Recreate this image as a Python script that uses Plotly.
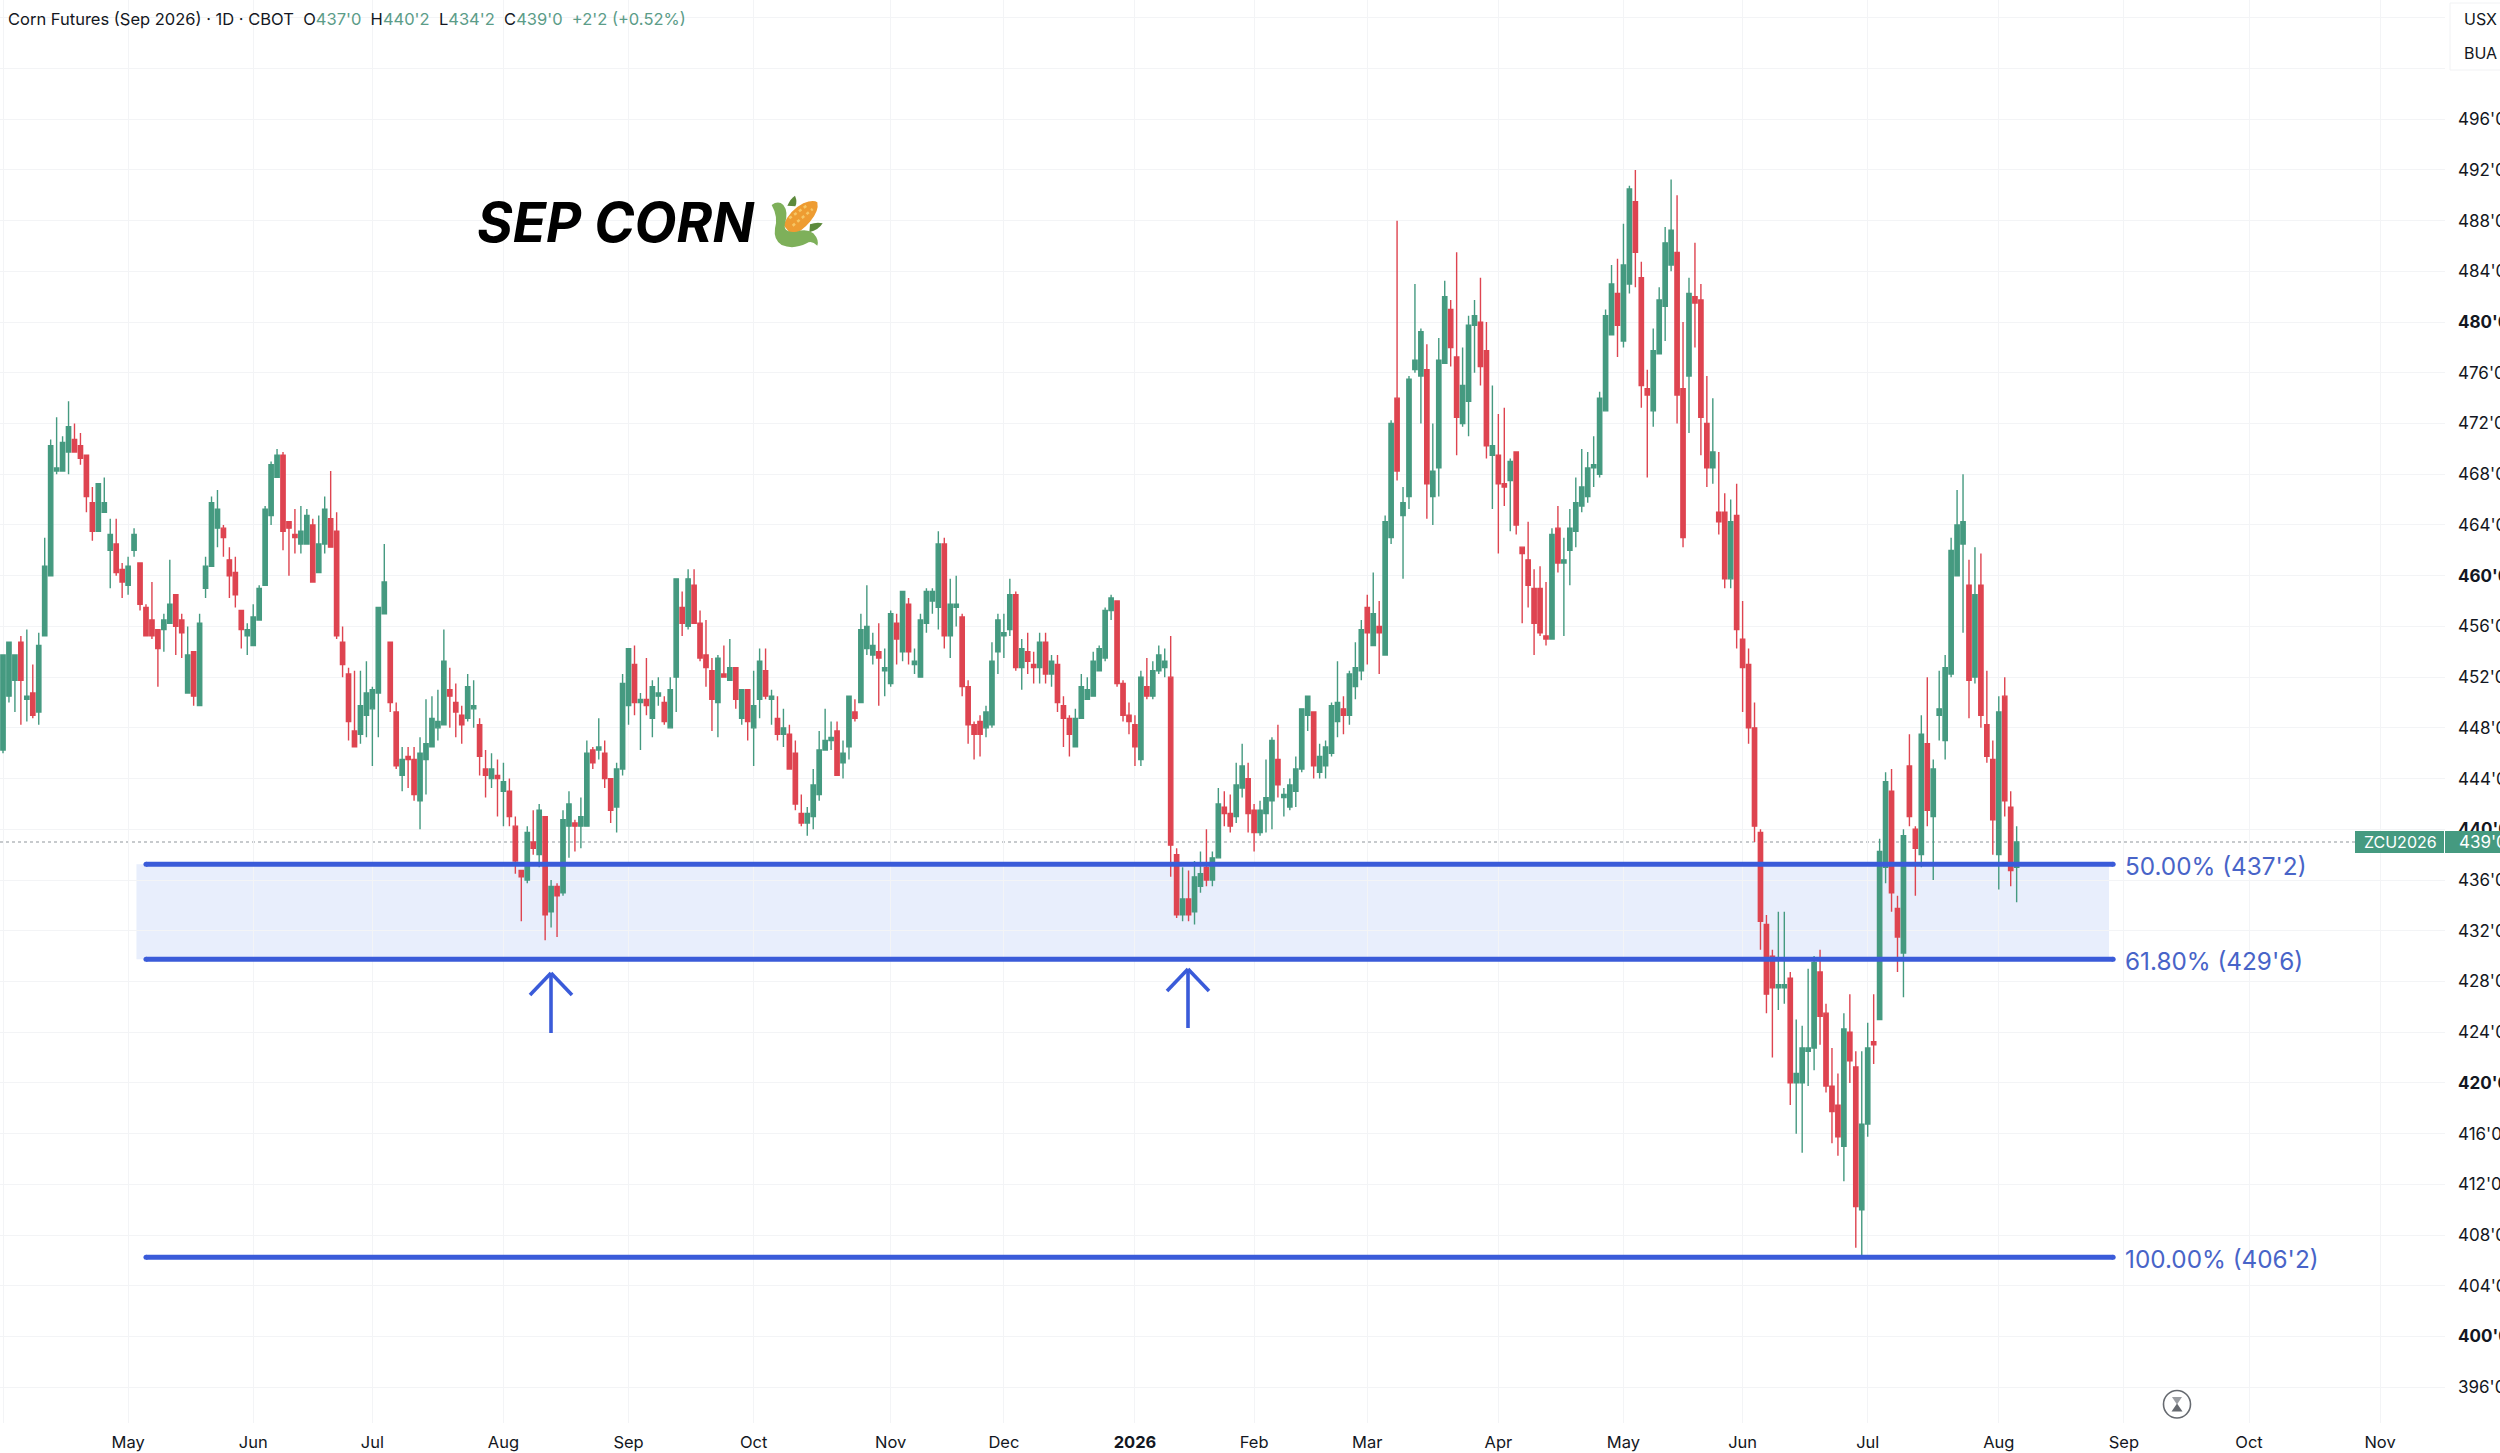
import plotly.graph_objects as go

# -----------------------------
# Daily bars
# -----------------------------
opens = [
    446.25,450.5,451.75,454.75,450.25,450.75,449.25,455.25,460,468.25,
    468.25,469.75,470.75,470.25,469.5,465.75,463.5,465,462,462.5,
    460.5,459.25,462,461,457.5,456.5,455.75,455.75,456.25,458.5,
    456.5,450.75,454,449.75,459,460.75,463.75,463.75,461.25,460.25,
    457.25,455.25,454.5,456.5,459.25,464.75,467.75,469.5,464.25,463.25,
    462.5,462.5,464,460.25,462.5,464.5,463.5,454.75,452.25,447.75,
    447.5,449,449.5,450.75,457,454.75,449.25,444.25,445.75,445.5,
    442.25,445.5,446.5,448,448.25,451,450,449,448.75,449.5,
    448.25,444.75,444,444.25,443,443,440.25,436.75,436,439,
    438,441,433.5,435.5,435,440.25,440.5,440.25,440.25,446.25,
    446.25,446,444,441.75,444.75,449.75,453,450,450.25,448.75,
    450.5,450,448,452,457.5,456,459.25,456.25,453.75,452.5,
    450,452.25,451.75,452.75,448.75,451,448,450.25,452.5,450.25,
    448.75,447.5,447.5,446,441.25,440.5,441,442.75,446.25,447,
    447.75,445.25,446.5,449.25,450,454.25,453.75,454,452.5,451.5,
    456.25,454,457.75,453,452,456.25,458,457.5,462.5,455.25,
    457.5,456.75,451.25,448.25,448.5,448,448.25,454,455.25,455.75,
    458.5,452.75,454,453,452.75,454.75,452.25,453,449.75,448.75,
    446.5,448.75,450.25,450.5,452.5,453.5,457.25,458,451.5,449,
    448.25,445.5,451.25,450.5,452.5,452.75,452,438,433.25,434.5,
    433.5,435.5,437,436,437.75,441.75,441.25,441,443.25,444,
    441.5,439.75,441.25,442.25,445.5,442.5,441.75,443,444.75,449,
    449.25,444.5,445,446,448.5,449.5,449,451.25,452.5,457.5,
    454.5,456,453.75,463,474,464.75,466.25,476.25,475.75,476.25,
    466.25,468.5,476.75,481,477.25,472,473.75,479.75,480,477.75,
    469.5,469.5,467.25,467.5,469.75,462.25,461.25,459,459,455.25,
    455,463.75,461,462,463.5,465.5,466.25,468.5,468,473,
    479,482.25,478.5,483,489.5,483.5,474.75,473,477.5,481.25,
    484.5,485.5,474.75,475.75,482,481.75,472,468.5,465,465,
    459.75,464.75,455,453,448,439.75,432.5,430,427.5,427.5,
    428.25,420,420,422.5,422.75,428.75,425.5,419.75,418.25,415,
    424,421.25,410,416.75,423.25,425,437,443,433.75,430.25,
    445,440,438,446.75,441,449,447,452.25,460,462.5,
    459.25,452,459.25,448.25,445.5,438,450.5,441.75,437,
]
highs = [
    453.75,454.75,453.75,455.25,455.75,453,455.5,463,470.75,472.5,
    471,473.75,472,471.25,469.5,467,467.25,467.75,464.5,464.5,
    461,461.5,463.75,461,457.75,459.5,455.75,457,461.25,458.5,
    457,456,454,457,461.5,466.25,466.75,464,462.25,461.5,
    457.25,456.25,457.75,459.25,465.5,469,470,469.75,464.25,465.25,
    465.5,465.25,464.5,464.75,466.25,468.25,465,456,452.75,452.5,
    452.5,453.25,451.25,457.5,462.5,454.75,450,446.5,446.5,446.5,
    447.25,450.25,450.5,451,455.75,452.75,451.5,449.75,452.25,451.75,
    448.75,446.25,446,445.5,445.25,444,441,436.75,440.25,441.5,
    442,441,436,435.75,441.5,443,440.75,442.5,447,446.5,
    448.75,447,444,445.25,452.25,454.25,454.5,450.75,453.5,451.75,
    452,450.5,452,459.75,458.75,460.5,460.5,457.25,456.5,453.5,
    453.75,454.5,455,452.75,451,451,452.5,454.25,454.25,451,
    450.5,449.5,448.25,447,442.75,441.75,444.75,447.75,449.5,448.5,
    448.5,447,450.5,450.25,457,459.25,455.5,456.25,454.25,457.25,
    457,458.75,458.25,454.25,457,459,459,463.5,463,459.75,
    460,457,451.75,448.5,449,449.75,454.75,457,457,459.75,
    458.75,455,455.5,454,455.5,455.5,453.75,453.75,450.5,449,
    449.5,452.25,452,454,454.5,457.5,458.5,458,451.75,450,
    449,452.5,453.5,453.25,454.5,454.25,455.25,438.5,437,436.75,
    437.5,438.25,440,438.25,443.25,443,442.75,445.25,446.75,445.25,
    442,442.25,445.5,447.25,448.25,443.25,444,445.75,449.5,450.5,
    449.25,446.75,447,450,453.25,450.5,452.5,454.75,456.5,458.5,
    460.25,458,464.75,472.25,488,467,475.75,483,479.5,478.25,
    472,478.75,483.25,481.75,485.5,478,480.5,481.75,483.5,480,
    475,472.75,473.25,469.25,469.75,462.25,464.25,460.5,460.75,459.5,
    463.75,465.5,463,465.25,467.75,470,469.75,471,474.5,481,
    484.5,485,487.75,490.75,492,484.75,476.25,479.5,482.75,487.5,
    491.25,490,480,483.5,486.25,483,475.75,474,469.75,466.5,
    466,467.25,458,454.25,450,440,433.25,430.5,433.5,433.5,
    428.75,425,424.5,429,430,430.5,426.25,422.75,420.75,425.5,
    427,422.5,422.5,424.75,427,439.25,444.5,444.75,434.75,440,
    447.5,440.25,449,452,445.5,452.5,453.75,463,466.75,468,
    461.25,462.25,461.75,452.5,447,450.5,452,443,440.25,
]
lows = [
    446,450,449.25,448.25,448.5,448.75,448.25,455.25,460,468,
    468.25,468,469.75,468.75,465,462.75,463.5,465,459,460,
    458.25,458.5,461.5,457.25,455.25,455,451.25,454,456.25,453.75,
    453.5,450.75,449.75,449.75,458.25,460.75,462.25,461.5,458.25,457.5,
    454.25,453.75,454.5,456.5,459.25,464,467.75,462,460,461.75,
    461.75,462.5,459.5,460.25,461.75,462.25,455,452,447,446.5,
    446.75,447.25,445,447.25,457,449.25,444.75,443,443.25,442.25,
    440,442.75,446.5,447,448.25,448,447.25,446.75,448.5,448,
    444.25,442.5,443.25,441,440.25,440.25,436.5,432.75,435.75,438,
    437,431.25,432.25,431.5,434.75,437.75,438.25,438.5,440.25,444.75,
    445.5,443.25,440.5,439.75,444.25,448.25,449,446.25,449,447.25,
    449.75,448.25,448,449.25,455.25,455.75,456.25,453.25,451.25,447.75,
    447.25,452,451.75,449.5,448.25,447,445,448.75,450.25,448.25,
    447,446.5,444.75,441.5,440.25,439.5,440,442.25,446.25,446.25,
    444.25,444,445.5,448.5,450,453.75,453,449.75,450.5,451.25,
    453,453.25,453,452.25,452,455.5,457,455.75,454.25,453.5,
    456,450.5,446.75,445.5,445.75,447.25,448,452.25,453.5,455.25,
    452.5,451,452.25,451.5,451.5,451.5,451.25,449.25,446.5,445.75,
    446.5,448.75,450.25,450.5,452.5,453.25,456.5,451.25,448.5,447.5,
    445,445,450.25,450.25,452.25,452,436.25,433,432.75,432.75,
    432.5,435,435.5,435.5,437.75,440.25,439.75,440.5,442.5,439.75,
    438.25,439.5,439.75,440,442.5,441,441.5,441.75,444.5,447.75,
    444,444,444,445.75,447.25,447.5,448.25,450.25,451.75,453,
    454.5,452.25,453.75,462.5,467.5,459.75,465.25,476,472,464.5,
    464,466.25,476.75,476.5,469.5,471.75,471,476,475,469.25,
    465.25,461.75,465.5,463.5,463.25,456.25,457.5,453.75,455.25,454.5,
    455,460.25,455.25,459.25,462.25,465,465.75,467,467.75,473,
    479,477.25,478,482.25,482.75,473.25,467.75,471.75,477.5,478.5,
    484,472,462.25,471.25,478,469.5,467,467.25,463.25,459,
    459,454.25,449.25,446.75,439,430.5,425.5,422,425.75,426.25,
    418.25,416,414.5,419.75,421,423,419.25,415.25,414.25,412.25,
    420,407,406.25,415.75,421.5,425,435.75,433.5,428.75,426.75,
    440.25,434.75,437,440.25,436,447,445.5,452,460,455.5,
    448.75,451.5,448,445.25,438,435.25,441,435.5,434.25,
]
closes = [
    453.75,454.75,453.75,451.75,450.5,449,454.5,460.75,470.25,468.5,
    470.5,471.75,469.75,469.25,466.25,463.5,467.25,465.75,463.25,460.25,
    459.5,460.75,463.25,457.75,455.25,455.25,454.25,456.5,457.75,456,
    455.5,453.75,450.5,456.25,460.75,465.75,465.25,463,460,458.5,
    455.75,455.75,456.75,459,465.25,468.75,469.5,463.5,463.75,463,
    463.5,464.75,459.5,462.5,465.25,462.25,455.25,453,448.5,446.5,
    449.75,450.75,451,457.5,459.5,450,445,445.5,445.5,442.75,
    446,446.75,448.75,448.5,453.25,450.5,449.25,448.25,451.25,449.75,
    445.75,444.25,444.75,444,443.75,441,437.5,436.25,439.75,438.5,
    441.5,433.25,435.5,434.75,440.75,442,440.25,441,446,445.25,
    446.5,444,441.5,444.75,451.5,454.25,450,450.25,449.75,451.25,
    450.75,448.5,451,459.75,456.25,459.75,456.25,453.5,452.75,450.25,
    453.5,452,452.75,450.25,451,448.5,449.75,453.25,450.5,450.5,
    447.5,448,444.75,442,440.5,441.25,443.5,446.25,447,447.25,
    444.25,446,450.5,448.75,455.75,456,454.5,453.5,452.75,457,
    455,458.75,454,453.25,456.5,458.75,458.75,462.5,455.25,457.75,
    457.75,451.25,448.25,447.5,447.5,449.25,453.25,456.5,455.5,458.5,
    452.75,454.25,453.25,452.75,454.75,452.25,453.25,450,448.75,447.5,
    448.75,451.25,451,453.25,454.25,457.25,458.25,451.5,449,448.5,
    446.5,452,450.5,452.5,453.75,453.25,438.75,433.25,434.5,433.25,
    436.25,436.5,436,437.75,442,441.25,440.25,443.5,445,441.25,
    439.75,441.5,442.5,447,443.5,442.75,443.5,444.75,449.5,450.5,
    445,445.75,446.5,449.75,450,449,452.25,452.75,455.75,455.5,
    457,455.5,464.25,472,468.25,465.75,475.5,477,479.25,467.25,
    468.25,477,482,478,472.5,475,479.75,480.5,476.5,470.25,
    470.25,467.25,467,469,464,461.75,459.25,456.25,455.5,455,
    463.25,461,461.25,463.75,465.75,467,468.5,468.75,474,480.5,
    483,479.75,484.5,490.5,485.5,475,474.25,477.75,481.75,486.25,
    487.25,474.25,463,482.25,481.5,472.5,468.5,469.75,464.25,459.75,
    464.25,455.75,452.75,448,440.25,432.75,427,427.5,427.75,427.75,
    420,420.75,422.75,422.75,429.5,425.25,419.75,417.75,415.75,424.25,
    421.75,410.25,416.75,422.75,423,438.25,443.75,435,431.5,439.5,
    441,438.5,447.5,441.5,444.75,449.5,452.75,462,464,464.25,
    451.75,458.5,449,445.75,440.75,449.25,442.25,436.75,439,
]
bars = list(range(len(closes)))

# first trading day of each month, as a bar number
month_bars = [0, 21, 42, 62, 84, 105, 126, 149, 168, 190, 210, 229, 251, 272, 292, 313, 335, 356, 377, 399]
month_labels = ["Apr", "May", "Jun", "Jul", "Aug", "Sep", "Oct", "Nov", "Dec", "<b>2026</b>",
                "Feb", "Mar", "Apr", "May", "Jun", "Jul", "Aug", "Sep", "Oct", "Nov"]

price_ticks = list(range(396, 508, 4))
price_labels = ["" if p > 496 else (f"<b>{p}'0</b>" if p % 20 == 0 else f"{p}'0") for p in price_ticks]

fib_levels = [437.25, 429.75, 406.25]
fib_labels = ["50.00% (437'2)", "61.80% (429'6)", "100.00% (406'2)"]

# -----------------------------
# Page geometry and colours
# -----------------------------
W, H = 2500, 1453
PLOT_W, PLOT_H = 2445, 1423
GREEN = "#459a80"
RED = "#de4450"
BLUE = "#3a5bd9"
LABEL_BLUE = "#4864c8"
INK = "#131722"
GRID = "#f3f4f6"
FONT = "Inter"


def fx(px):
    return px / PLOT_W


def fy(py):
    return 1 - py / PLOT_H


def path(*pts, close=True):
    # pts are page pixels or (command, pixels...) for curves
    out = []
    for p in pts:
        cmd, vals = p[0], p[1:]
        coords = []
        for i in range(0, len(vals), 2):
            coords.append(f"{fx(vals[i]):.5f},{fy(vals[i + 1]):.5f}")
        out.append(cmd + " ".join(coords))
    return " ".join(out) + (" Z" if close else "")


def icon(x, y):
    # corn icon crop coordinates to page pixels
    return 760 + x / 3, 185 + y / 3


def corn(cmd, *vals):
    res = [cmd]
    for i in range(0, len(vals), 2):
        res.extend(icon(vals[i], vals[i + 1]))
    return res


def label(text, px, py, size, color=INK, anchor="left"):
    return dict(text=text, x=fx(px), y=fy(py), xref="paper", yref="paper", xanchor=anchor,
                yanchor="middle", showarrow=False, font=dict(family=FONT, size=size, color=color),
                align="left")


# -----------------------------
# Figure
# -----------------------------
fig = go.Figure()

# Fibonacci lines go under the candles
for level in fib_levels:
    fig.add_trace(go.Scatter(
        x=[24, 354.2], y=[level, level], mode="lines+markers",
        line=dict(color=BLUE, width=5), marker=dict(color=BLUE, size=5),
        showlegend=False, hoverinfo="skip"
    ))

fig.add_trace(go.Candlestick(
    x=bars, open=opens, high=highs, low=lows, close=closes,
    increasing=dict(line=dict(color=GREEN, width=1.4), fillcolor=GREEN),
    decreasing=dict(line=dict(color=RED, width=1.4), fillcolor=RED),
    whiskerwidth=0, showlegend=False
))

shapes = []

# zone between the 50 and 61.8 levels
shapes.append(dict(type="rect", xref="x", yref="y", x0=22.4, x1=353.5, y0=fib_levels[1], y1=fib_levels[0],
                   fillcolor="rgba(70,120,230,0.125)", line=dict(width=0), layer="below"))

# last price line
shapes.append(dict(type="line", xref="paper", yref="y", x0=0, x1=fx(2355), y0=closes[-1], y1=closes[-1],
                   line=dict(color="#8f959c", width=1.2, dash="dot"), layer="below"))

# arrows under the two tests of the zone
for ax, tip, tail in [(551, 973, 1033), (1188, 969, 1028)]:
    for seg in ([(ax, tail), (ax, tip)], [(ax - 21, tip + 22), (ax, tip)], [(ax + 21, tip + 22), (ax, tip)]):
        shapes.append(dict(type="line", xref="paper", yref="paper", x0=fx(seg[0][0]), y0=fy(seg[0][1]),
                           x1=fx(seg[1][0]), y1=fy(seg[1][1]), line=dict(color=BLUE, width=3.6)))

# corn icon
shapes.append(dict(type="path", xref="paper", yref="paper", fillcolor="#5d8a3c", line=dict(width=0),
                   path=path(corn("M", 82, 62), corn("Q", 92, 40, 105, 32), corn("Q", 113, 50, 106, 64))))
shapes.append(dict(type="path", xref="paper", yref="paper", fillcolor="#5d8a3c", line=dict(width=0),
                   path=path(corn("M", 150, 118), corn("Q", 170, 110, 188, 115), corn("Q", 176, 135, 148, 142))))
shapes.append(dict(type="path", xref="paper", yref="paper", fillcolor="#ee9c32", line=dict(width=0),
                   path=path(corn("M", 70, 120), corn("Q", 90, 75, 130, 55), corn("Q", 160, 42, 172, 52),
                             corn("Q", 178, 78, 150, 110), corn("Q", 125, 140, 95, 150))))
for a, b, c, d in [(88, 100, 145, 58), (98, 122, 158, 72)]:
    p0, p1 = icon(a, b), icon(c, d)
    shapes.append(dict(type="line", xref="paper", yref="paper", x0=fx(p0[0]), y0=fy(p0[1]), x1=fx(p1[0]), y1=fy(p1[1]),
                       line=dict(color="#f6c766", width=2.5, dash="dot")))
shapes.append(dict(type="path", xref="paper", yref="paper", fillcolor="#7eb05a", line=dict(width=0),
                   path=path(corn("M", 35, 60), corn("Q", 55, 45, 70, 60), corn("Q", 86, 80, 75, 115),
                             corn("Q", 68, 145, 110, 140), corn("Q", 140, 130, 160, 145), corn("Q", 178, 165, 172, 182),
                             corn("Q", 155, 165, 140, 175), corn("Q", 100, 195, 65, 180), corn("Q", 40, 165, 45, 130),
                             corn("Q", 55, 95, 35, 60))))

# hourglass badge at the bottom
shapes.append(dict(type="circle", xref="paper", yref="paper", x0=fx(2163.5), x1=fx(2190.5), y0=fy(1418), y1=fy(1390.5),
                   line=dict(color="#666a70", width=1.6), fillcolor="white"))
shapes.append(dict(type="path", xref="paper", yref="paper", fillcolor="#9a9da2", line=dict(width=0),
                   path=path(["M", 2172, 1397], ["L", 2182, 1397], ["L", 2177, 1404.5])))
shapes.append(dict(type="path", xref="paper", yref="paper", fillcolor="#666a70", line=dict(width=0),
                   path=path(["M", 2177, 1403.5], ["L", 2182.5, 1411.5], ["L", 2171.5, 1411.5])))

# symbol and price tag over the right scale
shapes.append(dict(type="rect", xref="paper", yref="paper", x0=fx(2355), x1=fx(2510), y0=fy(853), y1=fy(831),
                   fillcolor=GREEN, line=dict(width=0)))
shapes.append(dict(type="line", xref="paper", yref="paper", x0=fx(2444.5), x1=fx(2444.5), y0=fy(853), y1=fy(831),
                   line=dict(color="white", width=1)))

# currency / unit box
shapes.append(dict(type="rect", xref="paper", yref="paper", x0=fx(2450), x1=fx(2520), y0=fy(70), y1=fy(3),
                   fillcolor="white", line=dict(color="#f1f2f4", width=1)))

annotations = [
    label("Corn Futures (Sep 2026) · 1D · CBOT  O<span style='color:#5b9c88'>437'0</span>  "
          "H<span style='color:#5b9c88'>440'2</span>  L<span style='color:#5b9c88'>434'2</span>  "
          "C<span style='color:#5b9c88'>439'0</span>  <span style='color:#5b9c88'>+2'2 (+0.52%)</span>",
          6, 19, 16.5),
    label("<b><i>SEP CORN</i></b>", 475, 222, 54.5, "#000000"),
    label("USX", 2462, 19, 16),
    label("BUA", 2462, 53, 16),
    label("ZCU2026", 2400, 842, 16, "white", "center"),
    label("439'0", 2457, 842, 17, "white"),
]
for level, text in zip(fib_levels, fib_labels):
    annotations.append(dict(text=text, x=355.8, y=level, xref="x", yref="y", xanchor="left", yanchor="middle",
                            yshift=-1.5, showarrow=False, font=dict(family=FONT, size=24.3, color=LABEL_BLUE)))

# -----------------------------
# Layout
# -----------------------------
fig.update_layout(
    width=W, height=H,
    margin=dict(l=0, r=W - PLOT_W, t=0, b=H - PLOT_H, pad=0),
    paper_bgcolor="white", plot_bgcolor="white",
    showlegend=False,
    boxgap=0.1, boxgroupgap=0.2,
    shapes=shapes, annotations=annotations,
    xaxis=dict(
        range=[-0.504, 409.9], tickvals=month_bars, ticktext=month_labels, automargin=False,
        showgrid=True, gridcolor=GRID, gridwidth=1.2, zeroline=False, showline=False, ticks="",
        ticklabelstandoff=7, tickfont=dict(family=FONT, size=16.5, color=INK),
        tickangle=0, rangeslider=dict(visible=False)
    ),
    yaxis=dict(
        side="right", range=[393.18, 505.4], tickvals=price_ticks, ticktext=price_labels, automargin=False,
        showgrid=True, gridcolor=GRID, gridwidth=1.2, zeroline=False, showline=False, ticks="",
        ticklabelstandoff=12, tickfont=dict(family=FONT, size=17, color=INK)
    ),
)

# the page's default body margin would push the chart off its place
fig.write_html(
    "out.html",
    config=dict(displayModeBar=False),
    post_script="document.body.style.margin='0';"
)
